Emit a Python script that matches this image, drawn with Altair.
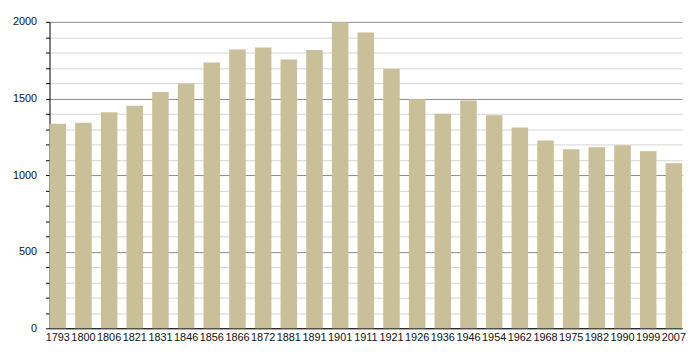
import altair as alt
import pandas as pd

years = ["1793", "1800", "1806", "1821", "1831", "1846", "1856", "1866", "1872",
         "1881", "1891", "1901", "1911", "1921", "1926", "1936", "1946", "1954",
         "1962", "1968", "1975", "1982", "1990", "1999", "2007"]
population = [1335, 1342, 1410, 1452, 1542, 1598, 1735, 1820, 1832,
              1755, 1817, 1998, 1930, 1692, 1495, 1400, 1486, 1391,
              1310, 1226, 1168, 1181, 1194, 1155, 1077]
y_ticks = list(range(0, 2001, 100))

df = pd.DataFrame({"year": years, "pop": population})

chart = alt.Chart(df).mark_bar(color="#c9bf99").encode(
    x=alt.X("year:N", sort=None, title=None,
            scale=alt.Scale(paddingInner=0.356, paddingOuter=0),
            axis=alt.Axis(labelAngle=0, ticks=False, domainColor="#000",
                          labelFont="Liberation Sans", labelFontSize=11,
                          labelColor="#111", labelPadding=3, grid=False)),
    y=alt.Y("pop:Q", title=None,
            scale=alt.Scale(domain=[0, 2000], nice=False),
            axis=alt.Axis(values=y_ticks,
                          labelExpr="datum.value % 500 === 0 ? datum.label : ''",
                          format="d",
                          grid=True,
                          gridColor={"condition": {"test": "datum.value % 500 === 0", "value": "#8a8a8a"}, "value": "#d4d4d4"},
                          gridWidth=1,
                          domainColor="#000", tickColor="#000", tickSize=4,
                          labelFont="Liberation Sans", labelFontSize=11,
                          labelColor="#111", labelPadding=9)),
).properties(
    width=640, height=310,
    autosize=alt.AutoSizeParams(type="none"),
    padding={"left": 42, "top": 12, "right": 10, "bottom": 22},
).configure_view(stroke=None).configure_axis(labelOverlap=False)

chart.save("out.html", embed_options={"renderer": "svg", "actions": False})
